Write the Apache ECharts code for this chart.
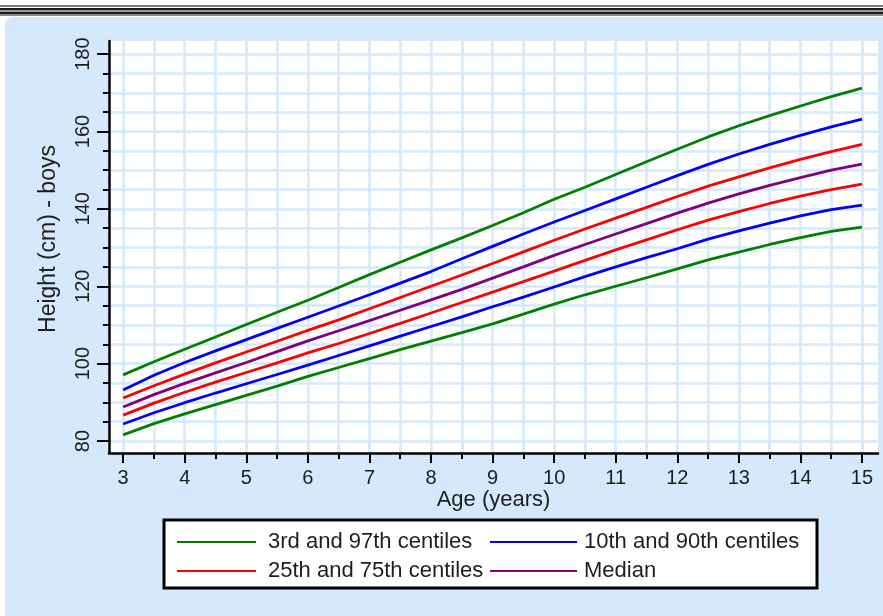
<!DOCTYPE html>
<html>
<head>
<meta charset="utf-8">
<script src="https://cdn.jsdelivr.net/npm/echarts@6/dist/echarts.min.js"></script>
<style>
  html, body { margin: 0; padding: 0; background: #ffffff; }
  #chart { width: 883px; height: 616px; }
</style>
</head>
<body>
<div id="chart"></div>
<script>
// Age in years (x values shared by every centile curve)
const ages = [3, 3.5, 4, 4.5, 5, 5.5, 6, 6.5, 7, 7.5, 8, 8.5, 9, 9.5, 10, 10.5, 11, 11.5, 12, 12.5, 13, 13.5, 14, 14.5, 15];

// Height (cm) for boys at each centile
const p3  = [81.6, 84.5, 87.0, 89.4, 91.8, 94.2, 96.7, 99.0, 101.3, 103.6, 105.8, 108.0, 110.3, 112.8, 115.4, 117.8, 120.0, 122.2, 124.5, 126.8, 128.8, 130.8, 132.6, 134.2, 135.3];
const p10 = [84.4, 87.3, 89.9, 92.4, 94.8, 97.2, 99.6, 102.1, 104.6, 107.1, 109.6, 112.1, 114.7, 117.2, 119.8, 122.5, 125.0, 127.4, 129.7, 132.2, 134.3, 136.3, 138.2, 139.8, 141.0];
const p25 = [86.7, 89.8, 92.6, 95.2, 97.7, 100.2, 102.8, 105.2, 107.8, 110.4, 113.1, 115.8, 118.5, 121.2, 123.9, 126.7, 129.4, 132.0, 134.6, 137.1, 139.3, 141.4, 143.3, 145.0, 146.4];
const p50 = [88.8, 92.0, 94.9, 97.6, 100.3, 103.1, 105.9, 108.5, 111.1, 113.8, 116.5, 119.2, 122.1, 125.0, 128.0, 130.8, 133.5, 136.2, 138.9, 141.5, 143.9, 146.1, 148.1, 150.0, 151.6];
const p75 = [91.1, 94.3, 97.3, 100.2, 103.0, 105.8, 108.6, 111.3, 114.2, 117.1, 120.0, 122.9, 125.9, 128.9, 131.9, 134.8, 137.6, 140.4, 143.2, 145.9, 148.3, 150.6, 152.8, 154.8, 156.7];
const p90 = [93.2, 97.0, 100.3, 103.3, 106.2, 109.1, 112.0, 114.9, 117.8, 120.8, 123.8, 127.1, 130.3, 133.5, 136.6, 139.6, 142.6, 145.6, 148.6, 151.5, 154.2, 156.7, 159.0, 161.2, 163.2];
const p97 = [97.1, 100.5, 103.7, 106.9, 110.1, 113.3, 116.4, 119.7, 123.0, 126.2, 129.4, 132.5, 135.7, 139.0, 142.5, 145.6, 148.9, 152.2, 155.4, 158.6, 161.5, 164.1, 166.6, 169.0, 171.2];

// Tick positions
const xMajorTicks = [3, 4, 5, 6, 7, 8, 9, 10, 11, 12, 13, 14, 15];
const xMinorTicks = [3, 3.5, 4, 4.5, 5, 5.5, 6, 6.5, 7, 7.5, 8, 8.5, 9, 9.5, 10, 10.5, 11, 11.5, 12, 12.5, 13, 13.5, 14, 14.5, 15];
const yMajorTicks = [80, 100, 120, 140, 160, 180];
const yMinorTicks = [80, 85, 90, 95, 100, 105, 110, 115, 120, 125, 130, 135, 140, 145, 150, 155, 160, 165, 170, 175, 180];

// Legend labels
const names = {
  outer: '3rd and 97th centiles',
  mid: '10th and 90th centiles',
  inner: '25th and 75th centiles',
  median: 'Median'
};

const colors = {
  outer: '#008000',
  mid: '#0000ff',
  inner: '#ff0000',
  median: '#800080'
};

const FONT = '"Liberation Sans", Arial, sans-serif';
const PANEL = '#d5e8fc';
const GRIDLINE = '#d5e8fc';
const INK = '#1e1e1e';

function pairs(values) {
  return ages.map((a, i) => [a, values[i]]);
}

function curve(name, color, values) {
  return {
    type: 'line',
    name: name,
    data: pairs(values),
    xAxisIndex: 0,
    yAxisIndex: 0,
    showSymbol: false,
    symbol: 'none',
    smooth: false,
    lineStyle: { color: color, width: 2.8 },
    itemStyle: { color: color },
    z: 5,
    silent: true
  };
}

const X_MIN = 2.77, X_MAX = 15.26;
const Y_MIN = 76.9, Y_MAX = 183.4;

const chart = echarts.init(document.getElementById('chart'), null, { renderer: 'canvas' });

chart.setOption({
  animation: false,
  backgroundColor: '#ffffff',
  graphic: [
    // header rule (double line)
    { type: 'rect', shape: { x: 0, y: 5, width: 883, height: 2 }, style: { fill: '#7a7a7a' }, z: 0, silent: true },
    { type: 'rect', shape: { x: 0, y: 8, width: 883, height: 2 }, style: { fill: '#1a1a1a' }, z: 0, silent: true },
    { type: 'rect', shape: { x: 0, y: 10, width: 883, height: 2 }, style: { fill: '#9a9a9a' }, z: 0, silent: true },
    { type: 'rect', shape: { x: 0, y: 12, width: 883, height: 2 }, style: { fill: '#1a1a1a' }, z: 0, silent: true },
    { type: 'rect', shape: { x: 0, y: 14, width: 883, height: 2 }, style: { fill: '#8a8a8a' }, z: 0, silent: true },
    // light blue panel
    { type: 'rect', shape: { x: 5, y: 17, width: 890, height: 610, r: [8, 0, 0, 0] }, style: { fill: PANEL }, z: -10, silent: true },
    // legend frame
    { type: 'rect', shape: { x: 164, y: 520, width: 653, height: 68 }, style: { fill: '#ffffff', stroke: '#000000', lineWidth: 3 }, z: 1, silent: true }
  ],
  grid: {
    left: 109, right: 5, top: 41, bottom: 163,
    show: true, backgroundColor: '#ffffff', borderWidth: 0,
    containLabel: false
  },
  xAxis: [
    {
      type: 'value', min: X_MIN, max: X_MAX, position: 'bottom',
      name: 'Age (years)', nameLocation: 'middle', nameGap: 36, nameMoveOverlap: false,
      nameTextStyle: { fontFamily: FONT, fontSize: 22, color: INK },
      axisLine: { show: true, onZero: false, lineStyle: { color: '#000', width: 2.5 } },
      axisTick: { show: true, length: 10, customValues: xMajorTicks, lineStyle: { color: '#000', width: 2 } },
      axisLabel: { show: true, customValues: xMajorTicks, margin: 15, fontFamily: FONT, fontSize: 20, color: INK },
      splitLine: { show: false },
      z: 10
    },
    {
      type: 'value', min: X_MIN, max: X_MAX, position: 'bottom',
      axisLine: { show: false, onZero: false },
      axisTick: { show: true, length: 6, customValues: xMinorTicks, lineStyle: { color: '#000', width: 2 } },
      axisLabel: { show: false },
      splitLine: { show: true, lineStyle: { color: GRIDLINE, width: 2.5 } }
    }
  ],
  yAxis: [
    {
      type: 'value', min: Y_MIN, max: Y_MAX, position: 'left',
      name: 'Height (cm) - boys', nameLocation: 'middle', nameGap: 49, nameRotate: 90,
      nameTextStyle: { fontFamily: FONT, fontSize: 23, color: INK, padding: [0, 0, 0, 16] },
      axisLine: { show: true, onZero: false, lineStyle: { color: '#000', width: 2.5 } },
      axisTick: { show: true, length: 12, customValues: yMajorTicks, lineStyle: { color: '#000', width: 2 } },
      axisLabel: { show: true, customValues: yMajorTicks, rotate: 90, margin: 16, fontFamily: FONT, fontSize: 20, color: INK },
      splitLine: { show: false },
      z: 10
    },
    {
      type: 'value', min: Y_MIN, max: Y_MAX, position: 'left',
      axisLine: { show: false, onZero: false },
      axisTick: { show: true, length: 6, customValues: yMinorTicks, lineStyle: { color: '#000', width: 2 } },
      axisLabel: { show: false },
      splitLine: { show: true, lineStyle: { color: GRIDLINE, width: 2.5 } }
    }
  ],
  legend: [
    {
      data: [names.outer, names.inner],
      orient: 'vertical', left: 172, top: 526,
      icon: 'rect', itemWidth: 79, itemHeight: 2, itemGap: 7,
      selectedMode: false,
      textStyle: { fontFamily: FONT, fontSize: 22, color: INK, lineHeight: 22, padding: [0, 0, 0, 7] },
      z: 5
    },
    {
      data: [names.mid, names.median],
      orient: 'vertical', left: 485, top: 526,
      icon: 'rect', itemWidth: 87, itemHeight: 2, itemGap: 7,
      selectedMode: false,
      textStyle: { fontFamily: FONT, fontSize: 22, color: INK, lineHeight: 22, padding: [0, 0, 0, 2] },
      z: 5
    }
  ],
  series: [
    curve(names.outer, colors.outer, p97),
    curve(names.mid, colors.mid, p90),
    curve(names.inner, colors.inner, p75),
    curve(names.median, colors.median, p50),
    curve(names.inner, colors.inner, p25),
    curve(names.mid, colors.mid, p10),
    curve(names.outer, colors.outer, p3)
  ]
});
</script>
</body>
</html>
